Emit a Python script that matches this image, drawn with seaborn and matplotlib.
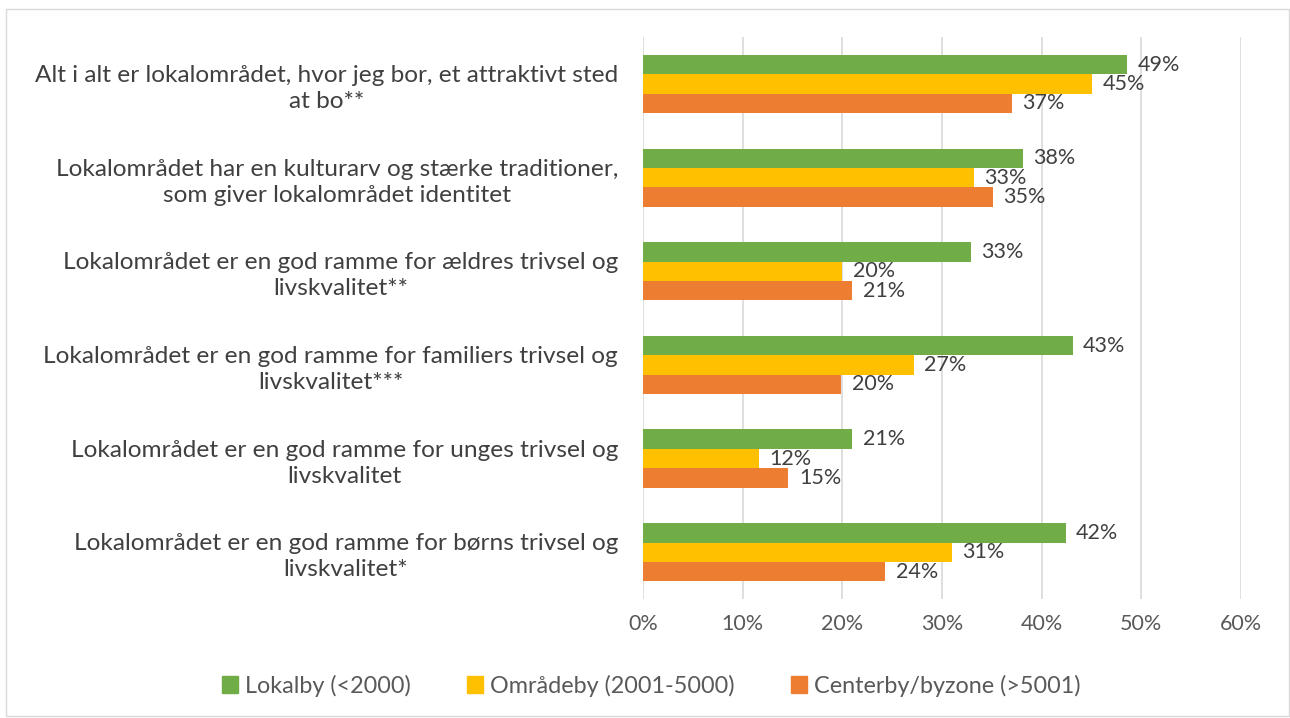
import matplotlib
matplotlib.use("Agg")
import matplotlib.pyplot as plt
import matplotlib.patches as mpatches
import pandas as pd
import seaborn as sns

# Data (percent)
categories = [
    "Alt i alt er lokalområdet, hvor jeg bor, et attraktivt sted\nat bo**",
    "Lokalområdet har en kulturarv og stærke traditioner,\nsom giver lokalområdet identitet",
    "Lokalområdet er en god ramme for ældres trivsel og\nlivskvalitet**",
    "Lokalområdet er en god ramme for familiers trivsel og\nlivskvalitet***",
    "Lokalområdet er en god ramme for unges trivsel og\nlivskvalitet",
    "Lokalområdet er en god ramme for børns trivsel og\nlivskvalitet*",
]
series = ["Lokalby (<2000)", "Områdeby (2001-5000)", "Centerby/byzone (>5001)"]
lokalby = [48.6, 38.1, 32.9, 43.1, 21.0, 42.4]
omraadeby = [45.1, 33.2, 20.0, 27.2, 11.6, 31.0]
centerby = [37.0, 35.1, 21.0, 19.9, 14.6, 24.3]
xticks = [0, 10, 20, 30, 40, 50, 60]

colors = ["#70AD47", "#FFC000", "#ED7D31"]
text_dark = "#404040"
text_grey = "#595959"

rows = []
for name, vals in zip(series, [lokalby, omraadeby, centerby]):
    for cat, v in zip(categories, vals):
        rows.append({"kategori": cat, "gruppe": name, "andel": v})
df = pd.DataFrame(rows)

sns.set_style("white")
plt.rcParams["font.family"] = ["Lato", "DejaVu Sans"]

fig = plt.figure(figsize=(12.9, 7.18), dpi=100)
ax = fig.add_axes([0.4984, 0.1657, 0.4636, 0.7827])

sns.barplot(data=df, y="kategori", x="andel", hue="gruppe", order=categories,
            hue_order=series, palette=colors, orient="h", width=0.62,
            linewidth=0, saturation=1, ax=ax, legend=False)

ax.set_xlim(0, 60)
ax.set_xticks(xticks)
ax.set_xticklabels([f"{t}%" for t in xticks], fontsize=15.5, color=text_grey)
ax.tick_params(axis="x", length=0, pad=11)
ax.tick_params(axis="y", length=0, pad=18)
for lab in ax.get_yticklabels():
    lab.set_fontsize(17.6)
    lab.set_color(text_dark)
    lab.set_multialignment("center")
    lab.set_linespacing(1.3)
ax.set_xlabel("")
ax.set_ylabel("")
ax.grid(axis="x", color="#D9D9D9", linewidth=1.2)
ax.set_axisbelow(True)
for s in ax.spines.values():
    s.set_visible(False)

for cont in ax.containers:
    labels = [f"{round(b.get_width()):.0f}%" for b in cont]
    ax.bar_label(cont, labels=labels, padding=7.5, fontsize=15.5, color=text_dark)

handles = [mpatches.Patch(color=c, label=s) for c, s in zip(colors, series)]
leg = fig.legend(handles=handles, loc="center", bbox_to_anchor=(0.505, 0.045), ncol=3,
                 frameon=False, fontsize=16.8, handlelength=0.7, handleheight=0.7,
                 handletextpad=0.3, columnspacing=2.4)
for t in leg.get_texts():
    t.set_color(text_grey)

fig.patches.append(mpatches.Rectangle((0.005, 0.003), 0.994, 0.985, transform=fig.transFigure,
                                      fill=False, edgecolor="#D9D9D9", linewidth=1))

fig.savefig("out.png", dpi=100)
